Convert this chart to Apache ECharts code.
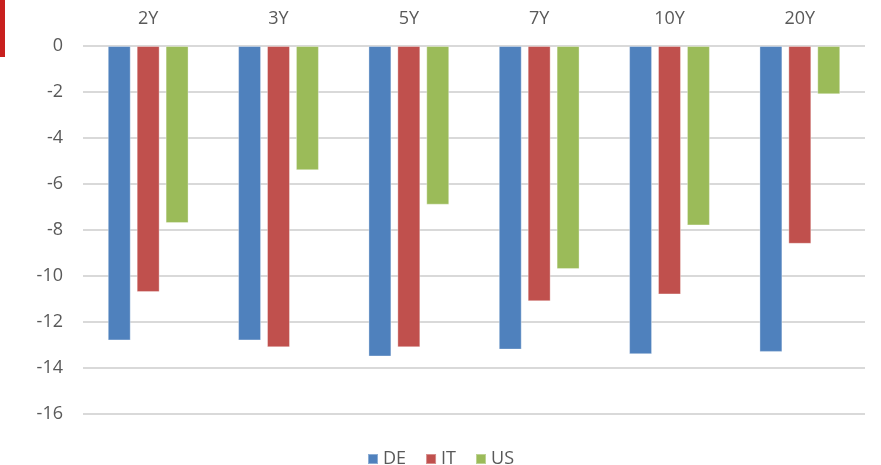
<!DOCTYPE html>
<html>
<head>
<meta charset="utf-8">
<script src="https://cdn.jsdelivr.net/npm/echarts@6/dist/echarts.min.js"></script>
<style>
html,body{margin:0;padding:0;background:#fff;}
#chart{width:881px;height:465px;}
</style>
</head>
<body>
<div id="chart"></div>
<script>
var categories = ['2Y', '3Y', '5Y', '7Y', '10Y', '20Y'];
var seriesNames = ['DE', 'IT', 'US'];
var deValues = [-12.8, -12.8, -13.5, -13.2, -13.4, -13.3];
var itValues = [-10.7, -13.1, -13.1, -11.1, -10.8, -8.6];
var usValues = [-7.7, -5.4, -6.9, -9.7, -7.8, -2.1];
var colors = ['#4F81BD', '#C0504D', '#9BBB59'];

var chart = echarts.init(document.getElementById('chart'));
var font = '"Open Sans", sans-serif';
var values = [deValues, itValues, usValues];
chart.setOption({
  animation: false,
  textStyle: {fontFamily: font},
  graphic: [{
    type: 'rect',
    shape: {x: 0, y: 0, width: 5, height: 57},
    style: {fill: '#C8201E'}
  }],
  legend: {
    top: 445,
    left: 'center',
    itemWidth: 10,
    itemHeight: 10,
    itemGap: 19,
    icon: 'rect',
    textStyle: {fontSize: 18, color: '#595959', fontFamily: font},
    data: seriesNames
  },
  grid: {left: 83, right: 16, top: 46, bottom: 51},
  xAxis: {
    type: 'category',
    position: 'top',
    data: categories,
    axisLine: {show: false},
    axisTick: {show: false},
    axisLabel: {fontSize: 18, color: '#595959', margin: 18, fontFamily: font}
  },
  yAxis: {
    type: 'value',
    min: -16,
    max: 0,
    interval: 2,
    axisLine: {show: false},
    axisTick: {show: false},
    axisLabel: {fontSize: 18, color: '#595959', margin: 20, fontFamily: font},
    splitLine: {lineStyle: {color: '#D9D9D9', width: 2}}
  },
  series: seriesNames.map(function (n, i) {
    return {
      name: n,
      type: 'bar',
      data: values[i],
      barGap: '26%',
      barCategoryGap: '38%',
      itemStyle: {color: colors[i], borderColor: 'rgba(255,255,255,0.35)', borderWidth: 1}
    };
  })
});
</script>
</body>
</html>
